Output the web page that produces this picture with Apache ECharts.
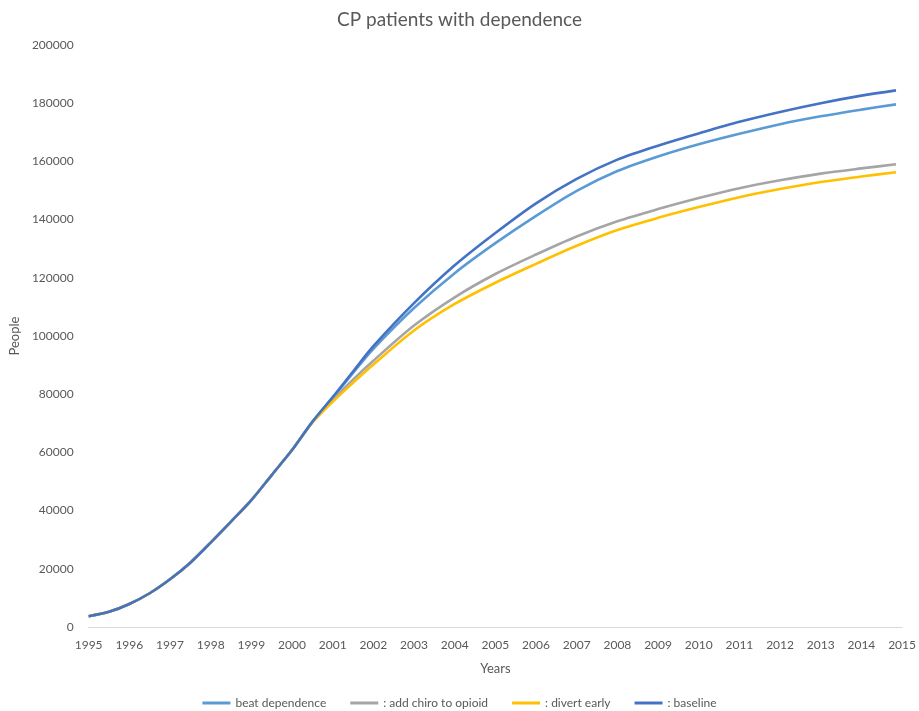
<!DOCTYPE html>
<html>
<head>
<meta charset="utf-8">
<title>CP patients with dependence</title>
<script src="https://cdn.jsdelivr.net/npm/echarts@6/dist/echarts.min.js"></script>
<style>
  html, body { margin: 0; padding: 0; background: #fff; }
  #chart { width: 919px; height: 711px; }
</style>
</head>
<body>
<div id="chart"></div>
<script>
// Time points (years); half-year steps through the early growth phase
const years = [1995, 1995.5, 1996, 1996.5, 1997, 1997.5, 1998, 1998.5, 1999, 1999.5,
  2000, 2000.5, 2001, 2001.5, 2002, 2003, 2004, 2005, 2006, 2007, 2008, 2009,
  2010, 2011, 2012, 2013, 2014, 2014.85];

const beatDependence = [3700, 5200, 7900, 11600, 16400, 22100, 29000, 36200, 43600, 52200,
  60800, 70500, 78800, 87300, 95600, 109600, 121600, 131900, 141300, 149900, 156700, 161700,
  165900, 169500, 172800, 175500, 177800, 179600];

const addChiroToOpioid = [3700, 5200, 7900, 11600, 16400, 22100, 29000, 36200, 43600, 52200,
  60800, 70400, 78000, 85000, 91500, 103600, 113300, 121300, 128000, 134200, 139400, 143600,
  147400, 150800, 153500, 155800, 157600, 159000];

const divertEarly = [3700, 5200, 7900, 11600, 16400, 22100, 29000, 36200, 43600, 52200,
  60800, 70200, 77400, 83900, 90200, 101900, 111000, 118300, 124800, 131000, 136400, 140600,
  144300, 147700, 150500, 152900, 154800, 156300];

const baseline = [3700, 5200, 7900, 11600, 16400, 22100, 29000, 36200, 43600, 52200,
  60800, 70500, 79000, 87800, 96500, 111300, 124300, 135400, 145600, 154000, 160600, 165400,
  169600, 173600, 177000, 180000, 182600, 184400];

const seriesNames = ['beat dependence', ': add chiro to opioid', ': divert early', ': baseline'];
const seriesValues = [beatDependence, addChiroToOpioid, divertEarly, baseline];
const seriesColors = ['#5B9BD5', '#A5A5A5', '#FFC000', '#4472C4'];

const FONT = 'Lato, "Open Sans", sans-serif';
const TEXT = '#595959';

const chart = echarts.init(document.getElementById('chart'), null, { renderer: 'canvas' });

chart.setOption({
  backgroundColor: '#ffffff',
  animation: false,
  title: {
    text: 'CP patients with dependence',
    left: 'center',
    top: 5,
    textStyle: { fontFamily: FONT, fontSize: 19, fontWeight: 'normal', color: TEXT }
  },
  legend: {
    top: 692,
    left: 'center',
    icon: 'rect',
    itemWidth: 28,
    itemHeight: 3,
    itemGap: 24,
    textStyle: { fontFamily: FONT, fontSize: 12, color: TEXT },
    data: seriesNames
  },
  grid: { left: 85, right: 16, top: 45, bottom: 84, containLabel: false },
  xAxis: {
    type: 'value',
    min: 1995,
    max: 2015,
    interval: 1,
    name: 'Years',
    nameLocation: 'middle',
    nameGap: 35,
    nameTextStyle: { fontFamily: FONT, fontSize: 13, color: TEXT },
    axisLine: { show: true, lineStyle: { color: '#D9D9D9', width: 1 } },
    axisTick: { show: false },
    splitLine: { show: false },
    axisLabel: {
      fontFamily: FONT, fontSize: 12, color: TEXT, margin: 12,
      formatter: v => String(v)
    }
  },
  yAxis: {
    type: 'value',
    min: 0,
    max: 200000,
    interval: 20000,
    name: 'People',
    nameLocation: 'middle',
    nameGap: 59,
    nameRotate: 90,
    nameTextStyle: { fontFamily: FONT, fontSize: 13, color: TEXT },
    axisLine: { show: false },
    axisTick: { show: false },
    splitLine: { show: false },
    axisLabel: {
      fontFamily: FONT, fontSize: 12, color: TEXT, margin: 15,
      formatter: v => String(v)
    }
  },
  series: seriesNames.map((name, i) => ({
    name: name,
    type: 'line',
    data: years.map((yr, j) => [yr, seriesValues[i][j]]),
    smooth: 0.3,
    showSymbol: false,
    symbol: 'none',
    color: seriesColors[i],
    lineStyle: { color: seriesColors[i], width: 2.6 },
    z: 2 + i
  }))
});
</script>
</body>
</html>
